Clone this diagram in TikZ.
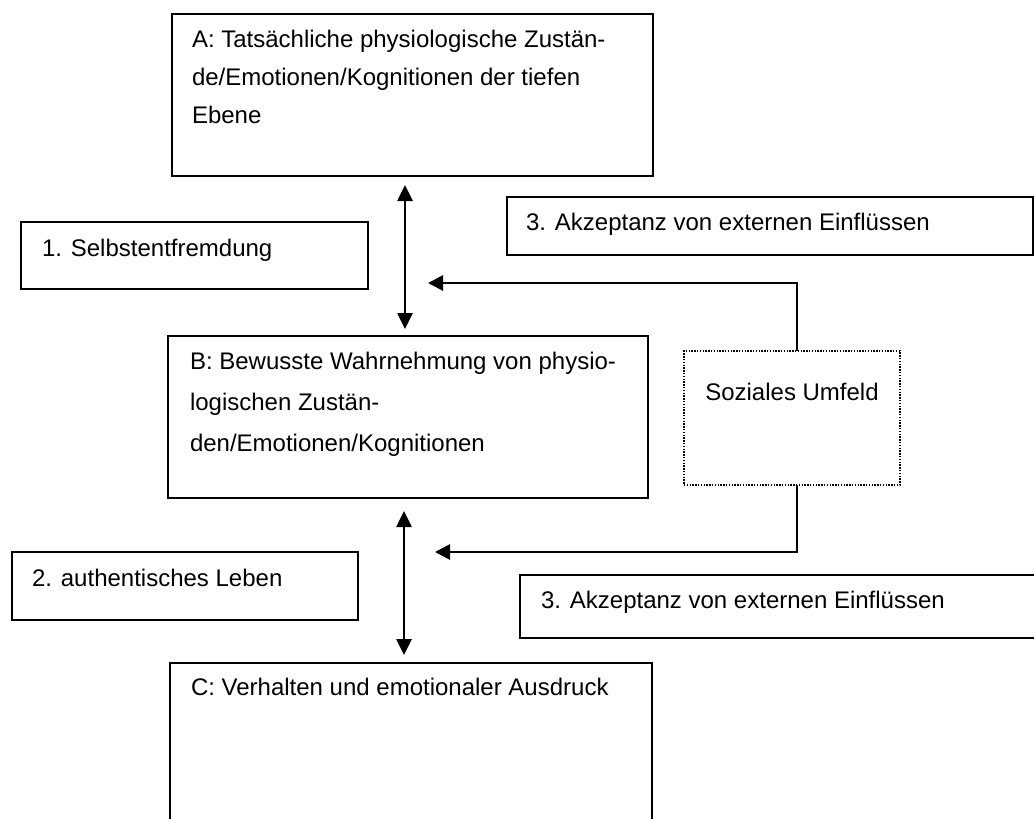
\documentclass[tikz,border=0pt]{standalone}
\usepackage{fontspec}
\setmainfont{Liberation Sans}
\usetikzlibrary{arrows.meta,calc}
\newcommand{\mylines}[2]{\parbox[t]{600pt}{\raggedright\fontsize{24}{#1}\selectfont #2}}
\begin{document}
\begin{tikzpicture}[x=1pt,y=-1pt,
  box/.style={draw=black, line width=2pt, rectangle, inner sep=0pt, outer sep=0pt, anchor=north west},
  dotbox/.style={draw=black, line width=1.3pt, dash pattern=on 1.4pt off 1.4pt, rectangle, inner sep=0pt, outer sep=0pt, anchor=north west},
  txt/.style={inner sep=0pt, outer sep=0pt, anchor=base west, font=\fontsize{24}{29}\selectfont, text=black},
  dbl/.style={line width=2.6pt, {Triangle[length=16pt,width=15pt]}-{Triangle[length=16pt,width=15pt]}},
  fbline/.style={line width=1.6pt},
  fb/.style={line width=2.8pt, -{Triangle[length=15pt,width=15pt]}}]
\useasboundingbox (0,0) rectangle (1034,819);
\fill[white] (0,0) rectangle (1034,819);
\begin{scope}
\clip (0,0) rectangle (1034,819);
% boxes
\node[box, minimum width=481pt, minimum height=162pt] (A) at (172,14) {};
\node[box, minimum width=347pt, minimum height=67pt] (S1) at (21,222) {};
\node[box, minimum width=526pt, minimum height=58pt] (E1) at (507,197) {};
\node[box, minimum width=480pt, minimum height=162pt] (B) at (168,336) {};
\node[dotbox, minimum width=216pt, minimum height=134pt] (S) at (684,351) {};
\node[box, minimum width=346pt, minimum height=68pt] (S2) at (12,552) {};
\node[box, minimum width=540pt, minimum height=63pt] (E2) at (520,575) {};
\node[box, minimum width=482pt, minimum height=200pt] (C) at (170,663) {};
% texts
\node[txt] (Atxt) at ($(A.north west)+(20,33)$) {\mylines{38}{A: Tatsächliche physiologische Zustän-\\de/Emotionen/Kognitionen der tiefen\\Ebene}};
\node[txt] (Btxt) at ($(B.north west)+(22,33)$) {\mylines{41}{B: Bewusste Wahrnehmung von physio-\\logischen Zustän-\\den/Emotionen/Kognitionen}};
\node[txt] (S1txt) at ($(S1.north west)+(21,34)$) {1. Selbstentfremdung};
\node[txt] (E1txt) at ($(E1.north west)+(19,33)$) {3. Akzeptanz von externen Einflüssen};
\node[txt, anchor=base] (Stxt) at ($(S.north)+(0,49)$) {Soziales Umfeld};
\node[txt] (S2txt) at ($(S2.north west)+(20,34)$) {2. authentisches Leben};
\node[txt] (E2txt) at ($(E2.north west)+(21,33)$) {3. Akzeptanz von externen Einflüssen};
\node[txt] (Ctxt) at ($(C.north west)+(21,32)$) {C: Verhalten und emotionaler Ausdruck};
% connectors
\draw[dbl] ($(A.south)+(-7.5,9)$) -- ($(B.north)+(-3,-7)$);
\draw[dbl] ($(B.south)+(-4,13)$) -- ($(C.north)+(-7,-8)$);
\coordinate (t1) at (428,283);
\coordinate (t2) at (435,552);
\coordinate (k1) at (797,283);
\coordinate (k2) at (797,552);
\draw[fbline] ($(S.north)+(5,0)$) -- (k1);
\draw[fb] ([xshift=0.8pt]k1) -- (t1);
\draw[fbline] ($(S.south)+(5,0)$) -- (k2);
\draw[fb] ([xshift=0.8pt]k2) -- (t2);
\end{scope}
\end{tikzpicture}
\end{document}
